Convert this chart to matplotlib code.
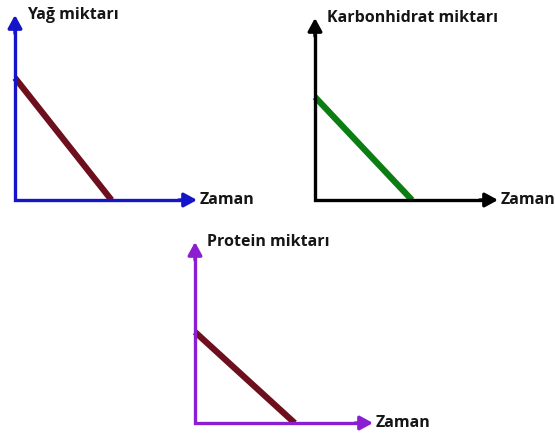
import matplotlib.pyplot as plt

W, H = 555, 438

# values (axes run 0..10 from origin to arrow tip)
time_pts = [0, 10]
yag_time = [0, 5.3]
yag_amount = [6.6, 0]
karb_time = [0, 5.3]
karb_amount = [5.66, 0]
prot_time = [0, 5.6]
prot_amount = [5.03, 0]

titles = ["Yağ miktarı", "Karbonhidrat miktarı", "Protein miktarı"]
xlabel = "Zaman"

# pixel boxes: origin x, origin y, width, height
boxes = [(15, 200, 182, 185), (315, 200, 183, 182), (195, 423, 178, 181)]
axis_colors = ["#1414c8", "#000000", "#8c1ed2"]
line_colors = ["#6e0f1e", "#0b7d12", "#6e0f1e"]
series = [(yag_time, yag_amount), (karb_time, karb_amount), (prot_time, prot_amount)]

fig = plt.figure(figsize=(W / 100, H / 100), dpi=100)
fig.patch.set_facecolor("white")

for (ox, oy, w, h), title, ac, lc, (xs, ys) in zip(boxes, titles, axis_colors, line_colors, series):
    ax = fig.add_axes([ox / W, 1 - oy / H, w / W, h / H])
    ax.set_xlim(time_pts[0], time_pts[1])
    ax.set_ylim(time_pts[0], time_pts[1])
    ax.axis("off")
    ax.plot(xs, ys, color=lc, lw=4.5, solid_capstyle="butt", clip_on=False, zorder=2)
    # the L-shaped axes, then arrow heads on the ends
    ax.plot([0, 0, 9.4], [9.4, 0, 0], color=ac, lw=2.4, solid_joinstyle="miter",
            solid_capstyle="butt", clip_on=False, zorder=3)
    aprops = dict(arrowstyle="-|>,head_length=0.55,head_width=0.3", color=ac, lw=2.4,
                  mutation_scale=14, shrinkA=0, shrinkB=0)
    ax.annotate("", xy=(10, 0), xytext=(9, 0), arrowprops=aprops, annotation_clip=False)
    ax.annotate("", xy=(0, 10), xytext=(0, 9), arrowprops=aprops, annotation_clip=False)
    ax.text(10.15, 0, xlabel, ha="left", va="center", fontsize=11.5, fontweight="bold",
            family="Open Sans", color="#151515", clip_on=False)
    ax.text(0.65, 10.0, title, ha="left", va="center", fontsize=11.5, fontweight="bold",
            family="Open Sans", color="#151515", clip_on=False)

fig.savefig("out.png", dpi=100)
